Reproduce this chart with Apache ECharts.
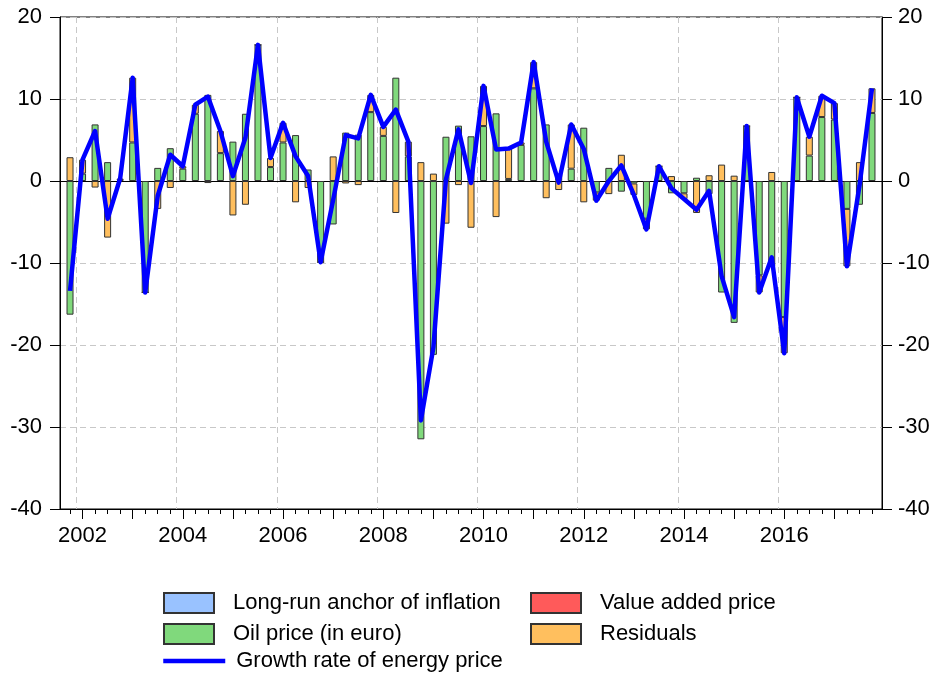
<!DOCTYPE html>
<html>
<head>
<meta charset="utf-8">
<script src="https://cdn.jsdelivr.net/npm/echarts@6/dist/echarts.min.js"></script>
<style>
    html, body { margin: 0; padding: 0; background: #fff; }
    #chart { width: 935px; height: 677px; }
</style>
</head>
<body>
<div id="chart"></div>
<script>
/* ------------------------------------ 数据 ------------------------------------ */
// quarters 2001Q4 .. 2017Q4
let quarters = ['2001Q4'];
for (let y = 2002; y <= 2017; y++) {
    for (let q = 1; q <= 4; q++) quarters.push(y + 'Q' + q);
}

let oilPrice = [
    -16.3, 0.9, 6.9, 2.3, 0.1, 4.7, -13.6, 1.6,
    4.0, 1.5, 8.2, 10.5, 3.4, 4.8, 8.2, 16.6,
    1.7, 4.7, 5.6, 1.4, -9.9, -5.3, 5.9, 5.65,
    8.4, 5.5, 12.6, 3.0, -31.5, -21.2, 5.4, 6.75,
    5.45, 6.7, 8.25, 0.25, 4.4, 11.3, 6.9, 0.9,
    1.5, 6.5, -1.4, 1.6, -1.3, -0.3, -4.6, 1.8,
    -1.5, -1.5, 0.4, -1.6, -13.6, -17.3, 6.7, -11.5,
    -10.4, -16.6, 10.2, 3.1, 7.8, 7.5, -3.4, -2.9,
    8.3
];
let residuals = [
    2.9, 1.7, -0.8, -6.9, 0.2, 7.9, 0, -3.4,
    -0.85, 0.3, 1.1, -0.25, 2.7, -4.2, -2.9, 0,
    1.1, 2.4, -2.6, -0.85, 0, 3.0, -0.3, -0.5,
    2.1, 1.1, -3.9, 1.8, 2.3, 0.9, -5.2, -0.5,
    -5.7, 4.9, -4.4, 3.7, 0.3, 3.2, -2.1, -1.1,
    5.4, -2.6, -1.0, -1.6, 3.2, -1.4, -1.3, 0,
    0.6, -0.7, -3.9, 0.7, 2.0, 0.65, 0, -2.1,
    1.1, -4.4, 0, 2.3, 2.6, 2.0, -7.0, 2.3,
    3.0
];
let anchorInflation = [];   // 图中不可见
let valueAddedPrice = [];   // 图中不可见
let energyGrowth = [
    -13.4, 2.6, 6.1, -4.6, 0.3, 12.6, -13.6, -1.8,
    3.2, 1.8, 9.3, 10.3, 6.1, 0.6, 5.3, 16.6,
    2.8, 7.1, 3.0, 0.6, -9.9, -2.3, 5.6, 5.2,
    10.5, 6.6, 8.7, 4.8, -29.2, -20.3, 0.2, 6.3,
    -0.25, 11.6, 3.85, 3.95, 4.7, 14.5, 4.8, -0.2,
    6.9, 3.9, -2.4, 0, 1.9, -1.7, -5.9, 1.8,
    -0.9, -2.2, -3.5, -1.2, -11.6, -16.6, 6.7, -13.6,
    -9.3, -21.0, 10.2, 5.4, 10.4, 9.5, -10.4, -0.6,
    11.3
];

let yearTicks = [2002, 2003, 2004, 2005, 2006, 2007, 2008, 2009, 2010, 2011, 2012, 2013, 2014, 2015, 2016, 2017];
let yearLabels = [2002, 2004, 2006, 2008, 2010, 2012, 2014, 2016];

/* ------------------------------------ 封装方法 ------------------------------------ */
// '2002Q1' -> 2002.0, '2001Q4' -> 2001.75
let quarterPos = function (s) {
    return +s.slice(0, 4) + (+s.slice(5) - 1) * 0.25;
};

let font = 'Liberation Sans, Arial, sans-serif';
let fs = 22;
// 外框网格(0)的年份范围；数据网格(1)与之对齐：每季度一格
let xMin = 2001.55, xMax = 2017.95;
let frame = { left: 60, right: 53, top: 17, bottom: 168 };
let pxPerYear = (935 - frame.left - frame.right) / (xMax - xMin);
let dataLeft = frame.left + (quarterPos(quarters[0]) - xMin - 0.125) * pxPerYear;
let dataWidth = quarters.length * 0.25 * pxPerYear;

let barSeries = function (name, vals, color) {
    return {
        name: name,
        type: 'bar',
        stack: 'total',
        barWidth: 7,
        xAxisIndex: 4,
        yAxisIndex: 2,
        data: vals,
        itemStyle: { color: color, borderColor: '#333', borderWidth: 1 }
    };
};

let legendText = { fontSize: fs, color: '#000', fontFamily: font, padding: [0, 0, 0, 14] };

let option = {
    animation: false,
    textStyle: { fontFamily: font },
    grid: [
        Object.assign({ show: true, borderColor: '#000', borderWidth: 1 }, frame),
        { left: dataLeft, width: dataWidth, top: frame.top, bottom: frame.bottom }
    ],
    legend: [
        {
            orient: 'vertical', left: 163, top: 592, padding: 0,
            itemWidth: 50, itemHeight: 20, itemGap: 9,
            textStyle: legendText,
            data: [
                { name: 'Long-run anchor of inflation', icon: 'rect' },
                { name: 'Oil price (in euro)', icon: 'rect' }
            ]
        },
        {
            orient: 'vertical', left: 530, top: 592, padding: 0,
            itemWidth: 50, itemHeight: 20, itemGap: 9,
            textStyle: legendText,
            data: [
                { name: 'Value added price', icon: 'rect' },
                { name: 'Residuals', icon: 'rect' }
            ]
        },
        {
            orient: 'vertical', left: 161, top: 650, padding: 0,
            itemWidth: 62, itemHeight: 20,
            textStyle: { fontSize: fs, color: '#000', fontFamily: font, padding: [0, 0, 0, 6] },
            data: [
                {
                    name: 'Growth rate of energy price',
                    itemStyle: { opacity: 0 },
                    lineStyle: { width: 4.5, color: '#0000ff' }
                }
            ]
        }
    ],
    xAxis: [
        {
            // 年刻度 + 标签
            gridIndex: 0, type: 'value', min: xMin, max: xMax, position: 'bottom',
            axisLine: { onZero: false, lineStyle: { color: '#000', width: 1 } },
            axisTick: { customValues: yearTicks, length: 10, lineStyle: { color: '#000' } },
            axisLabel: {
                customValues: yearLabels, margin: 16,
                fontSize: fs, color: '#000', fontFamily: font,
                formatter: v => String(v)
            },
            splitLine: { show: false }
        },
        {
            // 季度刻度
            gridIndex: 0, type: 'value', min: xMin, max: xMax, position: 'bottom',
            axisLine: { show: false, onZero: false },
            axisTick: { customValues: quarters.map(quarterPos), length: 5, lineStyle: { color: '#000' } },
            axisLabel: { show: false },
            splitLine: { show: false }
        },
        {
            // 零线
            gridIndex: 0, type: 'value', min: xMin, max: xMax, position: 'bottom',
            axisLine: { show: true, onZero: true, lineStyle: { color: '#000', width: 1 } },
            axisTick: { show: false },
            axisLabel: { show: false },
            splitLine: { show: false }
        },
        {
            // 竖向虚线：每两年一条，落在季度之间
            gridIndex: 0, type: 'value', min: xMin, max: xMax, position: 'bottom',
            axisLine: { show: false, onZero: false },
            axisTick: { show: false, customValues: yearLabels.map(y => y - 0.125) },
            axisLabel: { show: false },
            splitLine: { show: true, lineStyle: { color: '#c8c8c8', type: [6, 4], width: 1 } }
        },
        {
            // 数据用的类目轴
            gridIndex: 1, type: 'category', data: quarters, boundaryGap: true,
            show: false,
            splitLine: { show: false }
        }
    ],
    yAxis: [
        {
            gridIndex: 0, type: 'value', min: -40, max: 20, interval: 10, position: 'left',
            axisLine: { show: true, onZero: false, lineStyle: { color: '#000' } },
            axisTick: { show: true, length: 10, lineStyle: { color: '#000' } },
            axisLabel: { fontSize: fs, color: '#000', margin: 18, fontFamily: font },
            splitLine: { show: true, lineStyle: { color: '#c8c8c8', type: [6, 4] } }
        },
        {
            gridIndex: 0, type: 'value', min: -40, max: 20, interval: 10, position: 'right',
            axisLine: { show: true, onZero: false, lineStyle: { color: '#000' } },
            axisTick: { show: true, length: 10, lineStyle: { color: '#000' } },
            axisLabel: { fontSize: fs, color: '#000', margin: 16, fontFamily: font },
            splitLine: { show: false }
        },
        {
            gridIndex: 1, type: 'value', min: -40, max: 20, interval: 10, show: false,
            splitLine: { show: false }
        }
    ],
    series: [
        barSeries('Long-run anchor of inflation', anchorInflation, '#99c2ff'),
        barSeries('Value added price', valueAddedPrice, '#ff5a5a'),
        barSeries('Oil price (in euro)', oilPrice, '#80d97c'),
        barSeries('Residuals', residuals, '#ffbf5e'),
        {
            name: 'Growth rate of energy price',
            type: 'line',
            xAxisIndex: 4,
            yAxisIndex: 2,
            data: energyGrowth,
            symbol: 'none',
            z: 5,
            itemStyle: { color: '#0000ff' },
            lineStyle: { color: '#0000ff', width: 4.5, join: 'round' }
        }
    ]
};

let myChart = echarts.init(document.querySelector('#chart'));
myChart.setOption(option);
</script>
</body>
</html>
